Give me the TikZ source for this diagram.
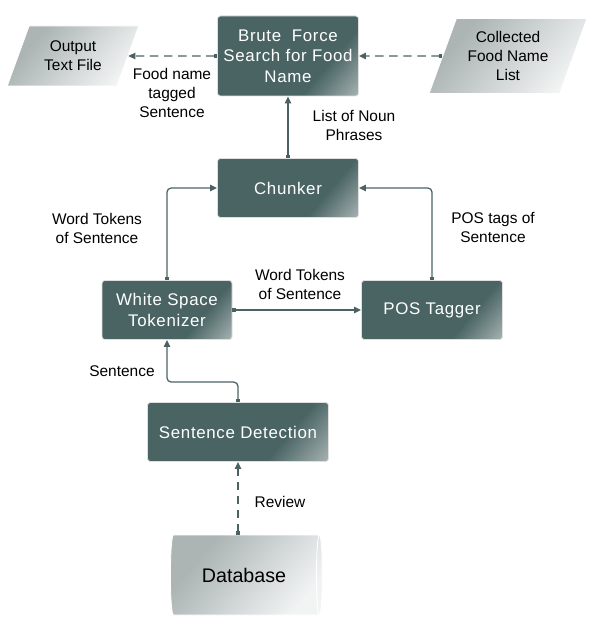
\documentclass[tikz,border=0pt]{standalone}
\usepackage{fontspec}
\setmainfont{Liberation Sans}
\newfontfamily\boxfont[LetterSpace=4]{Liberation Sans}
\usetikzlibrary{arrows.meta}
\usetikzlibrary{shapes.geometric}
\usetikzlibrary{calc}

\definecolor{boxdark}{HTML}{4A6464}
\definecolor{boxlight}{HTML}{B4BEBE}
\definecolor{linecol}{HTML}{4B6262}
\definecolor{filedark}{HTML}{ACB4B4}
\definecolor{filelight}{HTML}{F2F4F4}

\pgfdeclarehorizontalshading{boxshade}{100bp}{color(0bp)=(boxdark); color(66bp)=(boxdark); color(88bp)=(boxlight); color(100bp)=(boxlight)}
\pgfdeclarehorizontalshading{fileshade}{100bp}{color(0bp)=(filedark); color(30bp)=(filedark); color(75bp)=(filelight); color(100bp)=(filelight)}

\tikzset{
  procbox/.style={rectangle, rounded corners=2pt, shading=boxshade, shading angle=-40, draw=gray!25, line width=0.6pt, text=white, font=\boxfont\fontsize{12}{14.5}\selectfont, align=center, minimum height=1.475cm},
  iofile/.style={trapezium, trapezium left angle=70, trapezium right angle=110, shading=fileshade, shading angle=-40, draw=white, line width=0.6pt, font=\fontsize{11}{13.5}\selectfont, align=center, inner xsep=0pt},
  lbl/.style={font=\fontsize{11}{13.5}\selectfont, align=center},
  arr/.style={draw=linecol, line width=0.9pt, {Square[length=2.2pt,width=2.2pt]}-{Triangle[length=5pt,width=4.5pt]}},
  dasharr/.style={arr, dash pattern=on 6pt off 4pt}
}

\begin{document}
\begin{tikzpicture}
\useasboundingbox (0,0) rectangle (14.7,-15.425);

\node[procbox, minimum width=3.525cm, minimum height=2cm] (brute) at (7.2,-1.4) {Brute\ \ Force\\Search for Food\\Name};
\node[iofile, minimum width=3.075cm, minimum height=1.5cm] (output) at (1.825,-1.4) {Output\\Text File};
\node[iofile, minimum width=3.95cm, minimum height=1.75cm] (collected) at (12.7,-1.4) {Collected\\Food Name\\List};
\node[procbox, minimum width=3.525cm] (chunker) at (7.2,-4.7) {Chunker};
\node[procbox, minimum width=3.25cm] (tokenizer) at (4.175,-7.75) {White Space\\Tokenizer};
\node[procbox, minimum width=3.525cm] (pos) at (10.8,-7.75) {POS Tagger};
\node[procbox, minimum width=4.525cm] (detect) at (5.95,-10.8) {Sentence Detection};
\node[cylinder, shape aspect=0.25, minimum width=2cm, minimum height=3.8cm, shading=fileshade, shading angle=-40, draw=white, line width=0.6pt, font=\fontsize{14}{16}\selectfont] (database) at (6.1,-14.375) {Database};

\node[lbl] (taggedlbl) at (4.3,-2.325) {Food name\\tagged\\Sentence};
\node[lbl] (nounlbl) at (8.85,-3.125) {List of Noun\\Phrases};
\node[lbl] (wordlbl) at (2.425,-5.7) {Word Tokens\\of Sentence};
\node[lbl] (wordmidlbl) at (7.5,-7.1) {Word Tokens\\of Sentence};
\node[lbl] (poslbl) at (12.325,-5.675) {POS tags of\\Sentence};
\node[lbl] (sentlbl) at (3.05,-9.275) {Sentence};
\node[lbl] (reviewlbl) at (7.0,-12.55) {Review};

\draw[dasharr] (brute.west) -- (output.east);
\draw[dasharr] (collected.west) -- (brute.east);
\draw[arr] (chunker.north) -- (brute.south);
\draw[arr, rounded corners=3pt] (tokenizer.north) |- (chunker.west);
\draw[arr, rounded corners=3pt] (pos.north) |- (chunker.east);
\draw[arr] (tokenizer.east) -- (pos.west);
\draw[arr, rounded corners=3pt] (detect.north) -- ++(0,0.5) -| (tokenizer.south);
\draw[dasharr] (database.north -| detect.south) -- (detect.south);
\end{tikzpicture}
\end{document}
